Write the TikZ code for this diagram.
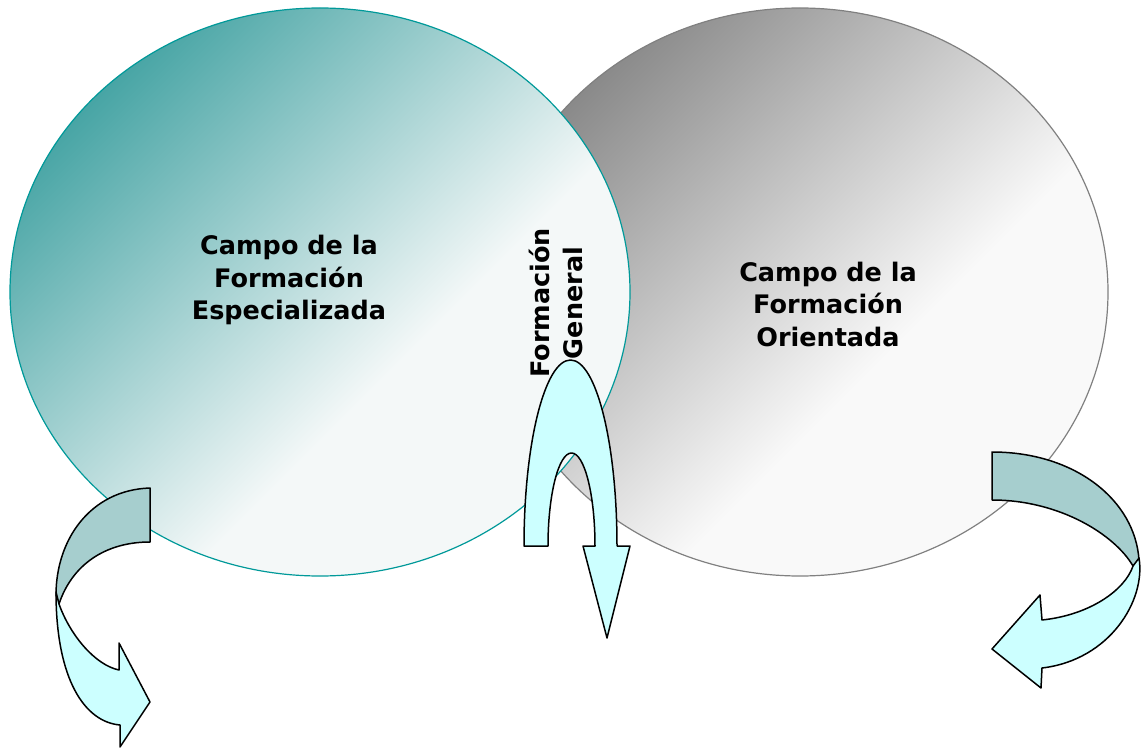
\documentclass[tikz,border=0pt]{standalone}
\usepackage{fontspec}
\setmainfont{DejaVu Sans}
\definecolor{tealD}{RGB}{72,165,165}
\definecolor{tealW}{RGB}{244,248,248}
\definecolor{tealB}{RGB}{0,153,153}
\definecolor{grayD}{RGB}{138,138,138}
\definecolor{grayW}{RGB}{249,249,249}
\definecolor{grayB}{RGB}{128,128,128}
\definecolor{bandD}{RGB}{166,206,206}
\definecolor{bandL}{RGB}{204,255,255}
\pgfdeclareverticalshading{tealsh}{100bp}{color(0bp)=(tealW); color(41bp)=(tealW); color(75bp)=(tealD); color(100bp)=(tealD)}
\pgfdeclareverticalshading{graysh}{100bp}{color(0bp)=(grayW); color(41bp)=(grayW); color(75bp)=(grayD); color(100bp)=(grayD)}
\tikzset{
  lbl/.style={font=\bfseries\fontsize{25.5}{32.5}\selectfont, align=center, inner sep=0pt},
  band/.style={draw=black, line width=1.5pt, line join=round},
}
\begin{document}
\begin{tikzpicture}[x=1pt,y=-1pt]
\useasboundingbox (0,0) rectangle (1141,751);
% right ellipse (behind)
\shade[shading=graysh, shading angle=45] (800,292) ellipse[x radius=308, y radius=284];
\draw[grayB, line width=1.2pt] (800,292) ellipse[x radius=308, y radius=284];
% left ellipse
\shade[shading=tealsh, shading angle=45] (320,292) ellipse[x radius=310, y radius=284];
\draw[tealB, line width=1.2pt] (320,292) ellipse[x radius=310, y radius=284];
% texts
\node[lbl] (esp) at (289,280) {Campo de la\\Formación\\Especializada};
\node[lbl] (ori) at (828,304) {Campo de la\\Formación\\Orientada};
\node[lbl, rotate=90] (gen) at (556,303) {Formación\\General};
% central U-turn arrow
\draw[band, fill=bandL] (524,546) arc[start angle=180, end angle=360, x radius=46.5, y radius=186]
  -- (630,546) -- (607,638) -- (583,546) -- (595,546)
  arc[start angle=0, end angle=-180, x radius=23.5, y radius=93] -- cycle;
% left curved arrow
\draw[band, fill=bandD] (150,488) .. controls (90,490) and (56,540) .. (56,595)
  -- (59,604) .. controls (72,565) and (105,542) .. (150,542) -- cycle;
\draw[band, fill=bandL] (56,592) .. controls (56,680) and (85,722) .. (120,725)
  -- (120,747) -- (150,702) -- (119,643) -- (119,670)
  .. controls (95,665) and (70,635) .. (59,604) -- cycle;
% right curved arrow
\draw[band, fill=bandD] (992,452) .. controls (1075,452) and (1135,500) .. (1139,560)
  -- (1133,566) .. controls (1115,535) and (1060,500) .. (992,500) -- cycle;
\draw[band, fill=bandL] (1139,558) .. controls (1146,600) and (1110,660) .. (1042,668)
  -- (1041,688) -- (992,649) -- (1040,595) -- (1042,620)
  .. controls (1090,615) and (1125,590) .. (1133,566) -- cycle;
\end{tikzpicture}
\end{document}
